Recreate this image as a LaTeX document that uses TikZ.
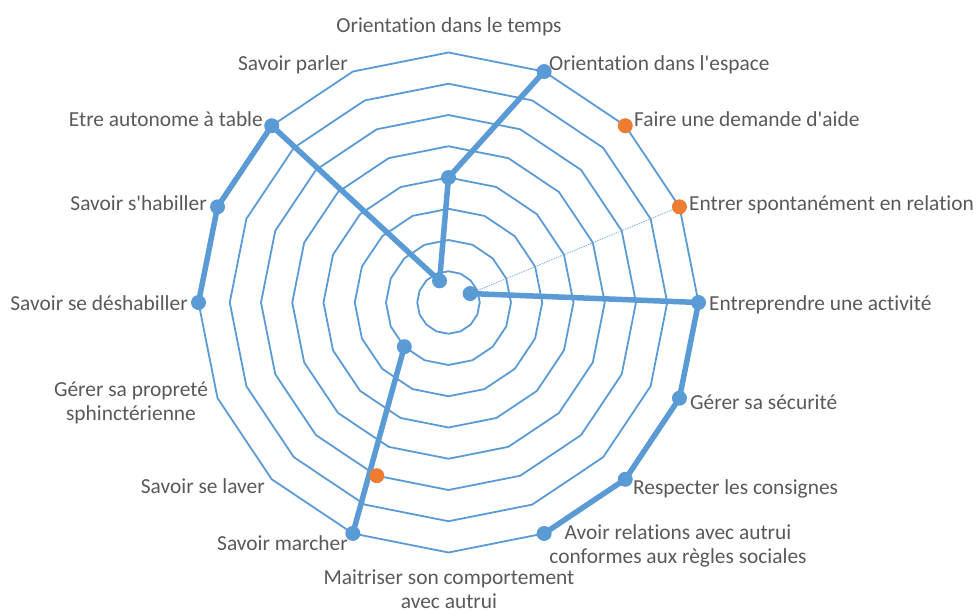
\documentclass[tikz,border=0pt]{standalone}
\usepackage{fontspec}
\newfontfamily\chartfont{Carlito}[Ligatures=NoCommon]
\usetikzlibrary{positioning}

\definecolor{chartblue}{HTML}{5B9BD5}
\definecolor{chartorange}{HTML}{ED7D31}
\definecolor{labelgray}{HTML}{595959}

\begin{document}
\begin{tikzpicture}[x=1pt, y=-1pt,
    ring/.style={draw=chartblue, line width=1.8pt, line join=round},
    series/.style={draw=chartblue, line width=5.5pt, line join=round},
    drop/.style={draw=chartblue!80, line width=0.8pt, dash pattern=on 1.5pt off 1pt},
    dot/.style={circle, fill=chartblue, inner sep=0pt, minimum size=15pt},
    odot/.style={circle, fill=chartorange, inner sep=0pt, minimum size=15pt},
    lbl/.style={text=labelgray, font=\chartfont\fontsize{21.4}{23.5}\selectfont, inner sep=0pt, align=center}]
    \useasboundingbox (0,0) rectangle (978,611);
    \begin{scope}[shift={(448.5,302.5)}]
    % rings
    \foreach \k in {1,...,8}
      \draw[ring] (-90:31.25*\k) \foreach \i in {1,...,15} { -- (22.5*\i-90:31.25*\k) } -- cycle;
    % data points
    \foreach \i/\v in {0/4,1/8,3/0.75,4/8,5/8,6/8,7/8,9/8,10/2,12/8,13/8,14/8,15/0.75}
      \coordinate (b\i) at (22.5*\i-90:31.25*\v);
    \foreach \i/\v in {2/8,3/8,9/6}
      \coordinate (o\i) at (22.5*\i-90:31.25*\v);
    \end{scope}
    \draw[drop] (b3) -- (o3);
    \draw[series] (b12) -- (b13) -- (b14) -- (b15) -- (b0) -- (b1);
    \draw[series] (b3) -- (b4) -- (b5) -- (b6) -- (b7);
    \draw[series] (b9) -- (b10);
    \foreach \i in {0,1,3,4,5,6,7,9,10,12,13,14,15}
      \node[dot] (mb\i) at (b\i) {};
    \foreach \i in {2,3,9}
      \node[odot] (mo\i) at (o\i) {};
    % labels
    \node[lbl, anchor=mid] (l0) at (449,30) {Orientation dans le temps};
    \node[lbl, anchor=mid west] (l1) at (549,68) {Orientation dans l'espace};
    \node[lbl, anchor=mid west] (l2) at (634,124) {Faire une demande d'aide};
    \node[lbl, anchor=mid west] (l3) at (689,208) {Entrer spontanément en relation};
    \node[lbl, anchor=mid west] (l4) at (709,308) {Entreprendre une activité};
    \node[lbl, anchor=mid west] (l5) at (690,407) {Gérer sa sécurité};
    \node[lbl, anchor=mid west] (l6) at (633,492) {Respecter les consignes};
    \node[lbl] (l7) at (678,546) {Avoir relations avec autrui\\conformes aux règles sociales};
    \node[lbl] (l8) at (449,589) {Maitriser son comportement\\avec autrui};
    \node[lbl, anchor=mid east] (l9) at (348,548) {Savoir marcher};
    \node[lbl, anchor=mid east] (l10) at (265,491) {Savoir se laver};
    \node[lbl] (l11) at (131,403) {Gérer sa propreté\\sphinctérienne};
    \node[lbl, anchor=mid east] (l12) at (188,308) {Savoir se déshabiller};
    \node[lbl, anchor=mid east] (l13) at (207,208) {Savoir s'habiller};
    \node[lbl, anchor=mid east] (l14) at (263,124) {Etre autonome à table};
    \node[lbl, anchor=mid east] (l15) at (348,68) {Savoir parler};
\end{tikzpicture}
\end{document}
